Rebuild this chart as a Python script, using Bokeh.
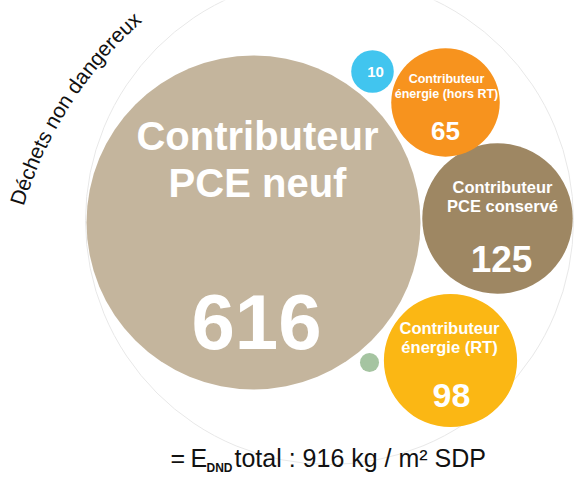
import numpy as np
from bokeh.plotting import figure
from bokeh.models import Range1d, ColumnDataSource
from bokeh.core.properties import value
from bokeh.embed import file_html
from bokeh.resources import INLINE

# ---------------- data ----------------
indicator = "Déchets non dangereux"
contributors = ["Contributeur PCE neuf", "Contributeur PCE conservé",
                "Contributeur énergie (RT)", "Contributeur énergie (hors RT)",
                "Contributeur 5", "Contributeur 6"]
values = [616, 125, 98, 65, 10, 2]
label_line1 = ["Contributeur", "Contributeur", "Contributeur", "Contributeur", "", ""]
label_line2 = ["PCE neuf", "PCE conservé", "énergie (RT)", "énergie (hors RT)", "", ""]
total_value = 916
total_unit = "kg / m² SDP"

# ---------------- layout / style ----------------
colors = ["#C4B59D", "#9E8763", "#FBB714", "#F7931E", "#41C5EF", "#A5C4A1"]
# bubble centres in page pixel coordinates (x right, y down)
cx_img = [253, 497, 450, 445, 372, 369]
cy_img = [222, 218, 360, 102, 71, 362]
# text baselines relative to bubble centres, and font sizes
l1_dy = [-72, -26, -27, -19, 0, 0]
l2_dy = [-25, -7, -8, -4, 0, 0]
num_dy = [128, 54, 47, 38, 5.5, 0]
l_dx = [4, 5, -1, 1, 0, 0]
num_dx = [3, 4, 1, 0, 3, 0]
line_size = [40, 16.5, 16.5, 12.5, 0, 0]
num_size = [78, 37, 34, 26, 15, 0]
SHIFT = 0.36   # renderer places the glyph middle at the anchor: compensate

W, H = 574, 486
def Y(yimg):
    return H - np.asarray(yimg, dtype=float)

rmax = 167.0
radii = [rmax * np.sqrt(v / max(values)) for v in values]

p = figure(width=W, height=H, x_range=Range1d(0, W), y_range=Range1d(0, H),
           output_backend="svg", toolbar_location=None, min_border=0,
           background_fill_color="white", border_fill_color="white")
p.axis.visible = False
p.grid.visible = False
p.outline_line_color = None

# faint outer circle
p.circle(x=[329], y=Y([220]), radius=244, fill_color=None,
         line_color="#E8E8E8", line_width=1)

src = ColumnDataSource(dict(x=cx_img, y=Y(cy_img), r=radii, c=colors))
p.circle(x="x", y="y", radius="r", fill_color="c", line_color=None, source=src)

FONT = value("Liberation Sans")

def txt(x, yb, text, size, bold=True, color="white", align="center"):
    p.text(x=list(x), y=Y(np.asarray(yb, dtype=float) - SHIFT * size), text=list(text),
           text_font=FONT, text_font_style="bold" if bold else "normal",
           text_font_size=f"{size}px", text_color=color,
           text_align=align, text_baseline="alphabetic")

for i in range(len(values)):
    if line_size[i] > 0:
        txt([cx_img[i] + l_dx[i]] * 2,
            [cy_img[i] + l1_dy[i], cy_img[i] + l2_dy[i]],
            [label_line1[i], label_line2[i]], line_size[i])
    if num_size[i] > 0:
        txt([cx_img[i] + num_dx[i]], [cy_img[i] + num_dy[i]],
            [str(values[i])], num_size[i])

# curved indicator title along an arc
adv = {"D": 722, "é": 556, "c": 500, "h": 556, "e": 556, "t": 278, "s": 500,
       " ": 278, "n": 556, "o": 556, "d": 556, "a": 556, "g": 556, "r": 333,
       "u": 556, "x": 500}
fs = 21.0
arc_cx, arc_cy, arc_R = 407.0, float(Y(322)), 401.0
theta0 = np.deg2rad(163.2)
s = 0.0
xs, ys, angs, chars = [], [], [], []
for ch in indicator:
    w = adv.get(ch, 556) / 1000 * fs
    th = theta0 - (s + w / 2) / arc_R
    rr = arc_R + SHIFT * fs
    xs.append(arc_cx + rr * np.cos(th))
    ys.append(arc_cy + rr * np.sin(th))
    angs.append(th - np.pi / 2)
    chars.append(ch)
    s += w
p.text(x=xs, y=ys, text=chars, angle=angs, text_font=FONT,
       text_font_size=f"{fs}px", text_color="#111111",
       text_align="center", text_baseline="alphabetic")

# total line at the bottom
fb = 25
txt([170, 190], [466, 466], ["=", "E"], fb, bold=False, color="#111111", align="left")
txt([206], [471.5], ["DND"], 12, bold=True, color="#111111", align="left")
txt([234], [466], [f"total : {total_value} {total_unit}"], fb, bold=False,
    color="#111111", align="left")

open("out.html", "w").write(file_html(p, INLINE))
